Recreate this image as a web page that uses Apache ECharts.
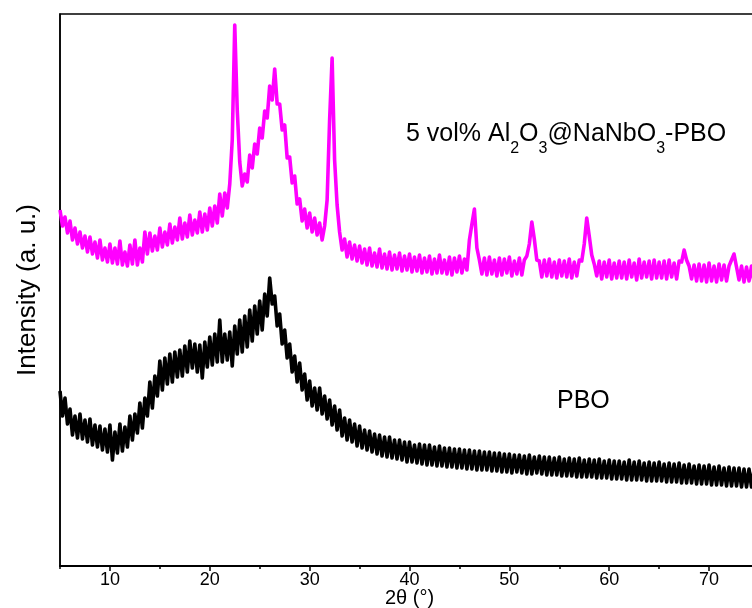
<!DOCTYPE html>
<html>
<head>
<meta charset="utf-8">
<script src="https://cdn.jsdelivr.net/npm/echarts@6/dist/echarts.min.js"></script>
<style>
html,body{margin:0;padding:0;background:#fff;}
#c{width:752px;height:608px;}
</style>
</head>
<body>
<div id="c"></div>
<script>
// 2θ sampling: start 5°, step 0.25° (281 points, 5 .. 75)
const thetaStart = 5;
const thetaStep = 0.25;
const xTickLabels = [10, 20, 30, 40, 50, 60, 70];
const xMinorTicks = [5, 15, 25, 35, 45, 55, 65, 75];

// 5 vol% Al2O3@NaNbO3-PBO (arbitrary units)
const composite = [
356,340,349,333, 345,326,338,322, 334,318,330,314, 329,312,324,308,
326,306,318,304, 322,303,318,302, 325,301,314,300, 321,302,326,301,
318,304,334,312, 333,315,330,316, 338,319,334,321, 342,323,339,326,
348,327,343,329, 351,331,346,333, 354,334,352,336, 358,340,360,343,
372,350,373,358, 382,426,541,456, 404,380,392,384, 411,398,422,412,
438,428,455,448, 480,466,497,462, 462,436,441,408, 409,383,390,362,
367,345,357,338, 353,334,348,331, 343,326,340,366, 446,508,406,361,
334,316,327,309, 324,307,321,305, 320,303,317,301, 318,300,313,299,
317,298,312,297, 314,296,311,297, 313,295,310,296, 312,294,309,295,
311,293,308,294, 310,292,307,293, 311,293,306,292, 309,291,308,294,
310,293,307,296, 326,342,357,318, 306,292,308,291, 309,292,306,290,
308,291,307,293, 309,290,305,292, 308,291,306,310, 322,344,327,306,
305,289,306,290, 307,289,304,288, 306,290,305,289, 307,288,304,290,
306,305,322,348, 330,311,302,290, 305,287,304,289, 306,287,303,288,
305,288,304,287, 306,289,303,286, 307,288,304,289, 305,287,306,288,
304,288,305,287, 306,289,303,287, 305,304,316,306, 300,287,301,285,
302,285,301,284, 303,285,300,284, 302,286,301,285, 300,306,312,299,
286,300,284,299, 285,300,284,298, 286
];

// PBO (arbitrary units)
const pbo = [
175,150,168,142, 157,131,150,128, 152,127,146,124, 147,121,141,119,
140,116,137,114, 141,106,134,113, 142,115,139,119, 150,126,152,133,
163,138,168,150, 184,158,190,170, 205,176,208,182, 212,184,214,189,
216,190,220,194, 225,198,222,194, 221,188,224,199, 229,201,232,204,
246,204,232,206, 234,200,240,212, 246,214,250,219, 256,225,260,232,
265,236,272,250, 288,262,270,240, 252,222,236,208, 222,194,210,184,
203,176,192,166, 185,160,178,156, 178,152,170,147, 166,141,160,136,
156,130,148,126, 146,124,142,120, 140,118,136,116, 135,114,132,112,
131,110,129,109, 129,108,126,107, 126,106,124,104, 124,104,121,103,
122,102,121,101, 121,101,119,100, 120,100,118,99, 118,99,117,98,
117,98,116,97, 116,97,115,96, 115,96,114,96, 114,95,113,95,
113,94,112,94, 112,93,111,94, 111,93,110,92, 111,92,109,93,
110,92,109,91, 109,91,108,91, 109,90,107,90, 108,90,107,89,
108,89,106,89, 107,89,106,88, 107,88,105,88, 106,87,105,87,
105,87,104,86, 106,86,104,86, 105,86,103,85, 104,85,103,85,
104,85,102,84, 103,84,102,84, 103,83,101,83, 102,83,100,82,
101,82,100,82, 101,81,99,81, 100,81,98,80, 99,80,98,80,
98,79,97,79, 97,79,96,78, 96
];

function pairs(arr){
  return arr.map(function(v,i){ return [thetaStart + i*thetaStep, v]; });
}

const FONT = "'Liberation Sans', Arial, Helvetica, sans-serif";
const chart = echarts.init(document.getElementById('c'), null, {renderer:'canvas'});
chart.setOption({
  animation:false,
  backgroundColor:'#fff',
  grid:{left:60, top:14, width:699, height:552, outerBoundsMode:'none', containLabel:false,
        show:true, borderColor:'#000', borderWidth:1.5, backgroundColor:'transparent'},
  xAxis:[{
    type:'value', min:5, max:75, position:'bottom',
    name:'2θ (°)', nameLocation:'middle', nameGap:22, nameMoveOverlap:false,
    nameTextStyle:{fontFamily:FONT, fontSize:20, color:'#000', verticalAlign:'top'},
    axisLine:{show:true, lineStyle:{color:'#000', width:2}},
    axisTick:{show:true, length:5, lineStyle:{color:'#000', width:1.5}, customValues:xTickLabels},
    axisLabel:{fontFamily:FONT, fontSize:18, color:'#000', margin:5, customValues:xTickLabels},
    splitLine:{show:false}
  },{
    type:'value', min:5, max:75, position:'bottom',
    axisLine:{show:false},
    axisTick:{show:true, length:3, lineStyle:{color:'#000', width:1.5}, customValues:xMinorTicks},
    axisLabel:{show:false},
    splitLine:{show:false}
  }],
  yAxis:{
    type:'value', min:0, max:552,
    name:'Intensity (a. u.)', nameLocation:'middle', nameGap:19, nameRotate:90, nameMoveOverlap:false,
    nameTextStyle:{fontFamily:FONT, fontSize:26, color:'#000'},
    axisLine:{show:true, lineStyle:{color:'#000', width:1.5}},
    axisTick:{show:false}, axisLabel:{show:false}, splitLine:{show:false}
  },
  series:[
    {type:'line', data:pairs(pbo), showSymbol:false, symbol:'none', lineStyle:{color:'#000', width:3.6, join:'round'}, z:3},
    {type:'line', data:pairs(composite), showSymbol:false, symbol:'none', lineStyle:{color:'#ff00ff', width:3.6, join:'round'}, z:4}
  ],
  graphic:[
    {type:'text', left:406, top:122, z:10, style:{
      text:'{m|5 vol% Al}{s|2}{m|O}{s|3}{m|@NaNbO}{s|3}{m|-PBO}',
      rich:{
        m:{fontFamily:FONT, fontSize:25, lineHeight:30, verticalAlign:'top', fill:'#000'},
        s:{fontFamily:FONT, fontSize:16, lineHeight:16, padding:[19,0,0,0], verticalAlign:'top', fill:'#000'}
      }
    }},
    {type:'text', left:557, top:389, z:10, style:{text:'PBO', fontFamily:FONT, fontSize:25, fill:'#000'}}
  ]
});
</script>
</body>
</html>
